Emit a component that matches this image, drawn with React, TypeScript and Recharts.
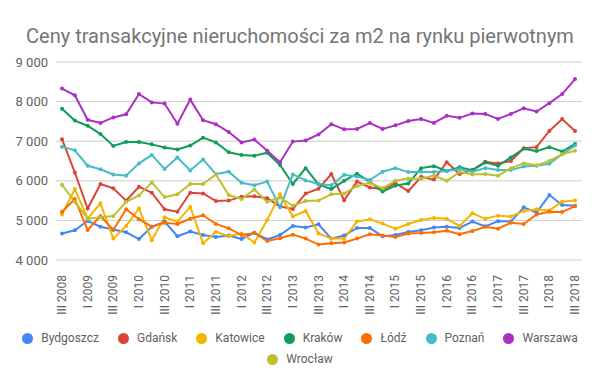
import { LineChart, Line, XAxis, YAxis, CartesianGrid } from 'recharts';

const quarters = [
  'III 2008', 'IV 2008',
  'I 2009', 'II 2009', 'III 2009', 'IV 2009',
  'I 2010', 'II 2010', 'III 2010', 'IV 2010',
  'I 2011', 'II 2011', 'III 2011', 'IV 2011',
  'I 2012', 'II 2012', 'III 2012', 'IV 2012',
  'I 2013', 'II 2013', 'III 2013', 'IV 2013',
  'I 2014', 'II 2014', 'III 2014', 'IV 2014',
  'I 2015', 'II 2015', 'III 2015', 'IV 2015',
  'I 2016', 'II 2016', 'III 2016', 'IV 2016',
  'I 2017', 'II 2017', 'III 2017', 'IV 2017',
  'I 2018', 'II 2018', 'III 2018',
];

const bydgoszcz = [4670, 4750, 4990, 4840, 4770, 4700, 4530, 4840, 4970, 4600, 4720, 4630, 4580, 4620, 4530, 4690, 4520, 4630, 4860, 4820, 4900, 4540, 4620, 4810, 4810, 4600, 4630, 4710, 4750, 4820, 4840, 4810, 4970, 4850, 4980, 4970, 5330, 5200, 5640, 5390, 5370];
const gdansk = [7050, 6210, 5300, 5920, 5810, 5500, 5850, 5700, 5280, 5220, 5700, 5680, 5490, 5500, 5600, 5610, 5560, 5350, 5290, 5680, 5800, 6170, 5510, 5980, 5830, 5790, 5940, 5740, 6100, 6030, 6470, 6170, 6270, 6480, 6440, 6500, 6820, 6850, 7260, 7560, 7260];
const katowice = [5150, 5790, 5050, 5430, 4540, 4860, 5300, 4500, 5080, 4970, 5340, 4420, 4710, 4600, 4670, 4440, 5010, 5660, 5100, 5240, 4670, 4540, 4540, 4970, 5030, 4920, 4790, 4910, 5010, 5060, 5040, 4860, 5180, 5040, 5120, 5100, 5240, 5280, 5250, 5470, 5500];
const krakow = [7820, 7520, 7390, 7180, 6880, 6980, 6980, 6920, 6840, 6790, 6890, 7090, 6970, 6720, 6650, 6630, 6710, 6400, 5920, 6320, 5910, 5790, 6000, 6180, 5980, 5730, 5880, 5930, 6320, 6370, 6250, 6340, 6270, 6460, 6380, 6590, 6810, 6750, 6850, 6740, 6930];
const lodz = [5220, 5540, 4760, 5110, 4760, 5280, 5030, 4840, 4940, 4910, 5040, 5130, 4910, 4800, 4630, 4680, 4480, 4550, 4640, 4540, 4390, 4420, 4440, 4540, 4650, 4620, 4580, 4670, 4680, 4700, 4740, 4650, 4730, 4840, 4790, 4940, 4910, 5150, 5220, 5210, 5360];
const poznan = [6860, 6770, 6380, 6290, 6160, 6130, 6440, 6650, 6300, 6590, 6260, 6540, 6170, 6230, 5950, 5890, 5980, 5330, 6160, 6010, 5920, 5890, 6150, 6110, 6020, 6230, 6320, 6220, 6230, 6220, 6250, 6300, 6230, 6320, 6270, 6270, 6360, 6380, 6430, 6670, 6890];
const warszawa = [8330, 8160, 7540, 7460, 7600, 7680, 8190, 7980, 7950, 7440, 8050, 7530, 7430, 7230, 6970, 7040, 6760, 6470, 6990, 7020, 7170, 7430, 7300, 7310, 7460, 7310, 7400, 7510, 7560, 7460, 7640, 7590, 7700, 7690, 7560, 7690, 7830, 7750, 7960, 8190, 8570];
const wroclaw = [5900, 5470, 5050, 5080, 5110, 5470, 5630, 5960, 5590, 5660, 5920, 5920, 6160, 5640, 5540, 5780, 5470, 5580, 5370, 5490, 5500, 5660, 5680, 5870, 5950, 5810, 6000, 6060, 6050, 6130, 6000, 6220, 6160, 6170, 6130, 6320, 6440, 6390, 6500, 6670, 6760];

const yTicks = [4000, 5000, 6000, 7000, 8000, 9000];

const SERIES = [
  { key: 'Bydgoszcz', values: bydgoszcz, color: '#4285f4' },
  { key: 'Gdańsk', values: gdansk, color: '#db4437' },
  { key: 'Katowice', values: katowice, color: '#f4b400' },
  { key: 'Kraków', values: krakow, color: '#0f9d58' },
  { key: 'Łódź', values: lodz, color: '#ff6d01' },
  { key: 'Poznań', values: poznan, color: '#46bdc6' },
  { key: 'Warszawa', values: warszawa, color: '#ab30c4' },
  { key: 'Wrocław', values: wroclaw, color: '#bfc02f' },
];

const data = quarters.map((q, i) => {
  const row: Record<string, string | number> = { q };
  SERIES.forEach(s => { row[s.key] = s.values[i]; });
  return row;
});

const FONT = 'Roboto, sans-serif';
const GRAY = '#616161';

const fmt = (v: number) => String(v).replace(/\B(?=(\d{3})+(?!\d))/g, ' ');

function QuarterTick(props: any) {
  const { x, y, payload } = props;
  return (
    <g transform={`translate(${x},${y})`}>
      <text
        transform="rotate(-90)"
        x={-7}
        y={0}
        dy={4}
        textAnchor="end"
        fill={GRAY}
        fontSize={12}
        fontFamily={FONT}
      >
        {payload.value}
      </text>
    </g>
  );
}

function LegendItem({ name, color }: { name: string; color: string }) {
  return (
    <div style={{ display: 'flex', alignItems: 'center', margin: '0 9.5px', height: 16 }}>
      <span style={{ width: 11, height: 11, borderRadius: '50%', background: color, marginRight: 8 }} />
      <span style={{ fontSize: 12, color: GRAY, lineHeight: '16px' }}>{name}</span>
    </div>
  );
}

const rowStyle = { position: 'absolute' as const, left: 0, width: 600, display: 'flex', justifyContent: 'center' };

export default function App() {
  return (
    <div style={{ position: 'absolute', left: 0, top: 0, width: 600, height: 371, background: '#fff', fontFamily: FONT }}>
      <div style={{ position: 'absolute', top: 26, left: 0, width: 600, textAlign: 'center', fontSize: 20, lineHeight: '20px', color: '#757575' }}>
        Ceny transakcyjne nieruchomości za m2 na rynku pierwotnym
      </div>
      <LineChart width={600} height={371} data={data} margin={{ top: 62, right: 18, left: 0, bottom: 61 }}>
        <CartesianGrid vertical={false} stroke="#cccccc" />
        <XAxis
          dataKey="q"
          interval={1}
          height={50}
          tick={<QuarterTick />}
          tickLine={false}
          axisLine={false}
          padding={{ left: 6, right: 7 }}
        />
        <YAxis
          width={56}
          domain={[4000, 9000]}
          ticks={yTicks}
          tickFormatter={fmt}
          tick={{ fill: GRAY, fontSize: 13, fontFamily: FONT }}
          tickLine={false}
          axisLine={false}
        />
        {SERIES.map(s => (
          <Line
            key={s.key}
            dataKey={s.key}
            stroke={s.color}
            strokeWidth={2}
            dot={{ r: 2, fill: s.color, stroke: s.color, strokeWidth: 0 }}
            type="linear"
            isAnimationActive={false}
          />
        ))}
      </LineChart>
      <div style={{ ...rowStyle, top: 330 }}>
        {SERIES.slice(0, 7).map(s => <LegendItem key={s.key} name={s.key} color={s.color} />)}
      </div>
      <div style={{ ...rowStyle, top: 351 }}>
        <LegendItem name={SERIES[7].key} color={SERIES[7].color} />
      </div>
    </div>
  );
}
